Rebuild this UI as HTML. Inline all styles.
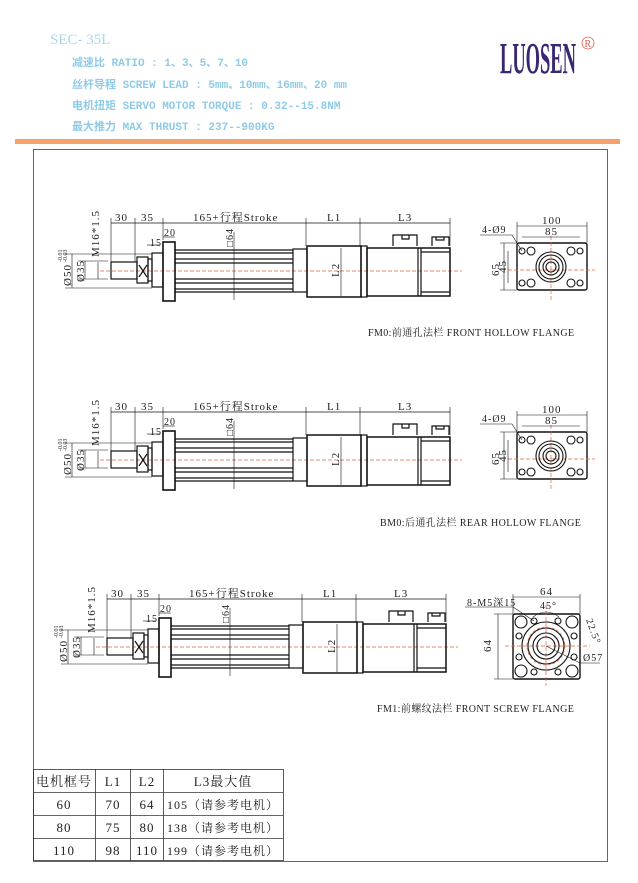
<!DOCTYPE html>
<html><head><meta charset="utf-8"><style>
body{margin:0;width:638px;height:878px;background:#fff;overflow:hidden;font-family:"Liberation Serif","Noto Serif CJK SC",serif}
</style></head><body>
<svg width="638" height="878" viewBox="0 0 638 878" xmlns="http://www.w3.org/2000/svg" font-family="Liberation Mono, Noto Sans CJK SC, monospace">
<defs>
<g id="side" stroke="#111" stroke-width="1.2" fill="none">
  <line x1="100" y1="271" x2="462" y2="271" stroke="#e8623a" stroke-width="0.8" stroke-dasharray="4,2"/>
  <line x1="111" y1="223" x2="450" y2="223" stroke-width="0.7"/>
  <line x1="111" y1="218" x2="111" y2="262" stroke-width="0.6"/>
  <line x1="135" y1="218" x2="135" y2="262" stroke-width="0.6"/>
  <line x1="163" y1="218" x2="163" y2="240" stroke-width="0.6"/>
  <line x1="306" y1="218" x2="306" y2="246" stroke-width="0.6"/>
  <line x1="360" y1="218" x2="360" y2="246" stroke-width="0.6"/>
  <line x1="450" y1="218" x2="450" y2="246" stroke-width="0.6"/>
  <line x1="65" y1="254" x2="152" y2="254" stroke-width="0.6"/>
  <line x1="65" y1="288" x2="152" y2="288" stroke-width="0.6"/>
  <line x1="72" y1="254" x2="72" y2="288" stroke-width="0.6"/>
  <line x1="78" y1="261" x2="108" y2="261" stroke-width="0.6"/>
  <line x1="78" y1="279" x2="108" y2="279" stroke-width="0.6"/>
  <line x1="85" y1="261" x2="85" y2="279" stroke-width="0.6"/>
  <line x1="98" y1="262" x2="98" y2="279" stroke-width="0.6"/>
  <line x1="234" y1="232" x2="234" y2="300" stroke-width="0.6"/>
  <line x1="341" y1="248" x2="341" y2="296" stroke-width="0.6"/>
  <line x1="147" y1="245" x2="160" y2="245" stroke-width="0.6"/>
  <line x1="163" y1="237" x2="175" y2="237" stroke-width="0.6"/>
  <rect x="111" y="262" width="26" height="17"/>
  <rect x="137" y="257" width="11" height="26"/>
  <line x1="139" y1="265" x2="147" y2="277"/><line x1="147" y1="265" x2="139" y2="277"/>
  <rect x="148" y="259" width="4" height="22"/>
  <rect x="152" y="253" width="11" height="34"/>
  <rect x="163" y="242" width="12" height="59" stroke-width="1.6"/>
  <line x1="175" y1="250" x2="293" y2="250"/><line x1="175" y1="253" x2="293" y2="253"/>
  <line x1="175" y1="259" x2="293" y2="259"/><line x1="175" y1="263" x2="293" y2="263"/>
  <line x1="175" y1="279" x2="293" y2="279"/><line x1="175" y1="283" x2="293" y2="283"/>
  <line x1="175" y1="289" x2="293" y2="289"/><line x1="175" y1="292" x2="293" y2="292"/>
  <rect x="293" y="249" width="14" height="43"/>
  <rect x="307" y="246" width="54" height="51" stroke-width="1.5"/>
  <rect x="361" y="246" width="6" height="51"/>
  <rect x="367" y="248" width="83" height="48" stroke-width="1.5"/>
  <line x1="418" y1="248" x2="418" y2="296"/><line x1="421" y1="248" x2="421" y2="296"/>
  <line x1="421" y1="252" x2="450" y2="252"/><line x1="421" y1="292" x2="450" y2="292"/>
  <path d="M393 246V235H417V246M402 235V239H409V235"/>
  <path d="M432 246V237H449V246M436 237V240H444V237"/>
</g>
<g id="side-text" fill="#222" font-size="11" font-family="Liberation Serif, Noto Serif CJK SC, serif" letter-spacing="1">
  <text x="115" y="221">30</text><text x="141" y="221">35</text>
  <text x="193" y="221">165+行程Stroke</text>
  <text x="327" y="221">L1</text><text x="398" y="221">L3</text>
  <text x="164" y="236" font-size="10">20</text><text x="150" y="246" font-size="10">15</text>
  <text transform="translate(99,257) rotate(-90)">M16*1.5</text>
  <text transform="translate(71,286) rotate(-90)">Ø50</text>
  <text transform="translate(62,262) rotate(-90)" font-size="6" letter-spacing="0">-0.01</text>
  <text transform="translate(67,262) rotate(-90)" font-size="6" letter-spacing="0">-0.03</text>
  <text transform="translate(84,282) rotate(-90)">Ø35</text>
  <text transform="translate(233,247) rotate(-90)" font-size="10">□64</text>
  <text transform="translate(339,277) rotate(-90)">L2</text>
</g>
<g id="end" stroke="#111" stroke-width="1.1" fill="none">
  <rect x="517" y="243" width="70" height="47" rx="2" stroke-width="1.4"/>
  <line x1="551" y1="236" x2="551" y2="300" stroke="#e8623a" stroke-width="0.7" stroke-dasharray="4,2"/>
  <line x1="508" y1="270" x2="595" y2="270" stroke="#e8623a" stroke-width="0.7" stroke-dasharray="4,2"/>
  <circle cx="551" cy="267" r="15"/><circle cx="551" cy="267" r="12"/><circle cx="551" cy="267" r="8"/><circle cx="551" cy="267" r="5"/>
  <circle cx="522" cy="251" r="3"/><circle cx="580" cy="251" r="3"/><circle cx="522" cy="283" r="3"/><circle cx="580" cy="283" r="3"/>
  <circle cx="531" cy="251" r="4"/><circle cx="571" cy="251" r="4"/><circle cx="531" cy="283" r="4"/><circle cx="571" cy="283" r="4"/>
  <line x1="517" y1="226" x2="587" y2="226" stroke-width="0.6"/>
  <line x1="522" y1="237" x2="580" y2="237" stroke-width="0.6"/>
  <line x1="517" y1="222" x2="517" y2="243" stroke-width="0.6"/><line x1="587" y1="222" x2="587" y2="243" stroke-width="0.6"/>
  <line x1="500" y1="243" x2="517" y2="243" stroke-width="0.6"/><line x1="500" y1="290" x2="517" y2="290" stroke-width="0.6"/>
  <line x1="504" y1="243" x2="504" y2="290" stroke-width="0.6"/>
  <line x1="508" y1="251" x2="508" y2="283" stroke-width="0.6"/>
  <path d="M480 235H512L522 251" stroke-width="0.6"/>
</g>
<g id="end-text" fill="#222" font-size="11" font-family="Liberation Serif, serif" letter-spacing="1">
  <text x="542" y="224">100</text><text x="545" y="235">85</text>
  <text x="482" y="233" font-size="10">4-Ø9</text>
  <text transform="translate(499,276) rotate(-90)">65</text>
  <text transform="translate(506,273) rotate(-90)">45</text>
</g>
</defs>

<text x="50" y="44" fill="#a8d8ee" font-size="15" font-family="Liberation Serif, serif">SEC- 35L</text>
<g fill="#8fcbe6" font-size="11" font-weight="bold">
<text x="72" y="66">减速比 RATIO : 1、3、5、7、10</text>
<text x="72" y="88">丝杆导程 SCREW LEAD : 5mm、10mm、16mm、20 mm</text>
<text x="72" y="109">电机扭矩 SERVO MOTOR TORQUE : 0.32--15.8NM</text>
<text x="72" y="130">最大推力 MAX THRUST : 237--900KG</text>
</g>
<text x="0" y="0" transform="translate(500,73) scale(0.44,1.05)" fill="#3a2672" font-size="42" font-weight="bold" font-family="Liberation Serif, serif">LUOSEN</text>
<circle cx="588" cy="43" r="6" fill="none" stroke="#e05a4a" stroke-width="0.8"/>
<text x="584.5" y="47" fill="#e05a4a" font-size="10" font-family="Liberation Serif, serif">R</text>
<rect x="15" y="139" width="605" height="5" fill="#f5a26a"/>
<rect x="33.5" y="149.5" width="574" height="712" fill="none" stroke="#666" stroke-width="1"/>

<use href="#side"/><use href="#side-text"/><use href="#end"/><use href="#end-text"/>
<g transform="translate(0,189)"><use href="#side"/><use href="#side-text"/><use href="#end"/><use href="#end-text"/></g>
<g transform="translate(-4,376)"><use href="#side"/><use href="#side-text"/></g>

<g stroke="#111" stroke-width="1.1" fill="none">
  <rect x="513" y="614" width="67" height="65" rx="2" stroke-width="1.4"/>
  <line x1="546" y1="605" x2="546" y2="686" stroke="#e8623a" stroke-width="0.7" stroke-dasharray="4,2"/>
  <line x1="505" y1="646" x2="590" y2="646" stroke="#e8623a" stroke-width="0.7" stroke-dasharray="4,2"/>
  <circle cx="546" cy="646" r="24"/><circle cx="546" cy="646" r="18"/><circle cx="546" cy="646" r="13"/><circle cx="546" cy="646" r="9"/>
  <circle cx="546" cy="646" r="19" stroke="#e8623a" stroke-width="0.6" stroke-dasharray="3,2"/>
  <circle cx="521" cy="622" r="6"/><circle cx="572" cy="622" r="6"/><circle cx="521" cy="671" r="6"/><circle cx="572" cy="671" r="6"/>
  <circle cx="534" cy="621" r="3"/><circle cx="558" cy="621" r="3"/><circle cx="534" cy="672" r="3"/><circle cx="558" cy="672" r="3"/>
  <circle cx="519" cy="636" r="3"/><circle cx="519" cy="657" r="3"/><circle cx="574" cy="636" r="3"/><circle cx="574" cy="657" r="3"/>
  <line x1="513" y1="597" x2="580" y2="597" stroke-width="0.6"/>
  <line x1="513" y1="594" x2="513" y2="614" stroke-width="0.6"/><line x1="580" y1="594" x2="580" y2="614" stroke-width="0.6"/>
  <line x1="494" y1="614" x2="513" y2="614" stroke-width="0.6"/><line x1="494" y1="679" x2="513" y2="679" stroke-width="0.6"/>
  <line x1="498" y1="614" x2="498" y2="679" stroke-width="0.6"/>
  <path d="M465 607H513L534 621" stroke-width="0.6"/>
  <path d="M533 617Q546 607 559 617" stroke-width="0.6"/>
  <path d="M546 646L580 663H600" stroke-width="0.6"/>
</g>
<g fill="#222" font-size="11" font-family="Liberation Serif, Noto Serif CJK SC, serif" letter-spacing="1">
  <text x="540" y="595">64</text>
  <text x="467" y="606" font-size="10">8-M5深15</text>
  <text x="540" y="609" font-size="10">45°</text>
  <text transform="translate(491,652) rotate(-90)">64</text>
  <text transform="translate(586,620) rotate(70)" font-size="10">22.5°</text>
  <text x="583" y="661" font-size="10">Ø57</text>
</g>

<g fill="#222" font-size="10" font-family="Liberation Serif, Noto Serif CJK SC, serif" letter-spacing="0.4">
<text x="368" y="336">FM0:前通孔法栏 FRONT HOLLOW FLANGE</text>
<text x="380" y="526">BM0:后通孔法栏 REAR HOLLOW FLANGE</text>
<text x="377" y="712">FM1:前螺纹法栏 FRONT SCREW FLANGE</text>
</g>

<g stroke="#333" stroke-width="0.8" fill="none">
<rect x="33.5" y="769.5" width="250" height="91"/>
<line x1="33" y1="792.5" x2="283" y2="792.5"/><line x1="33" y1="815.5" x2="283" y2="815.5"/><line x1="33" y1="838.5" x2="283" y2="838.5"/>
<line x1="95.5" y1="769" x2="95.5" y2="861"/><line x1="130.5" y1="769" x2="130.5" y2="861"/><line x1="163.5" y1="769" x2="163.5" y2="861"/>
</g>
<g fill="#222" font-size="13" text-anchor="middle" font-family="Liberation Serif, Noto Serif CJK SC, serif" letter-spacing="1">
<text x="64" y="786">电机框号</text><text x="113" y="786">L1</text><text x="147" y="786">L2</text><text x="223" y="786">L3最大值</text>
<text x="64" y="809">60</text><text x="113" y="809">70</text><text x="147" y="809">64</text><text x="223" y="809" font-size="12">105（请参考电机）</text>
<text x="64" y="832">80</text><text x="113" y="832">75</text><text x="147" y="832">80</text><text x="223" y="832" font-size="12">138（请参考电机）</text>
<text x="64" y="855">110</text><text x="113" y="855">98</text><text x="147" y="855">110</text><text x="223" y="855" font-size="12">199（请参考电机）</text>
</g>
</svg>
</body></html>
